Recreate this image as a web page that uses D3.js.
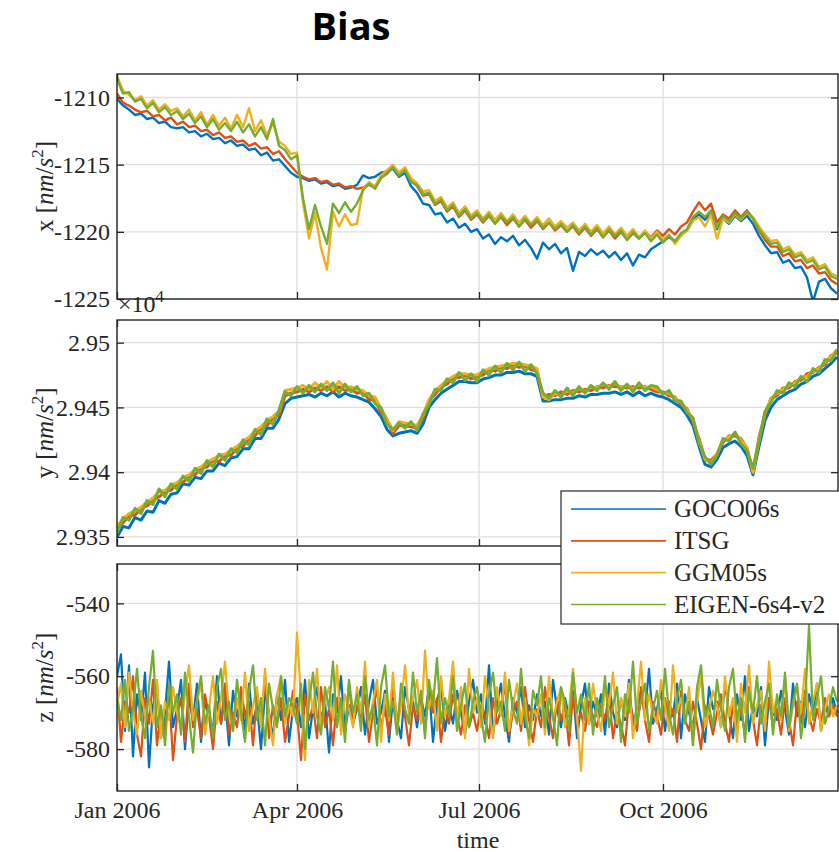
<!DOCTYPE html>
<html>
<head>
<meta charset="utf-8">
<script src="https://cdn.jsdelivr.net/npm/d3@7"></script>
<style>
body { margin: 0; background: #fff; }
text { font-family: "Liberation Serif", "Times New Roman", serif; fill: #262626; }
</style>
</head>
<body>
<svg id="chart" width="839" height="852"></svg>
<script>
// ---------- data ----------
var startDay = Date.UTC(2006, 0, 1)
var dayMs = 864e5
var models = ["GOCO06s", "ITSG", "GGM05s", "EIGEN-6s4-v2"]
var colors = ["#0072BD", "#D95319", "#EDB120", "#77AC30"]
var monthTicks = ["2006-01-01", "2006-04-01", "2006-07-01", "2006-10-01"]
var monthLabels = ["Jan 2006", "Apr 2006", "Jul 2006", "Oct 2006"]
var xTicks = [-1225, -1220, -1215, -1210]
var yTicks = [29350, 29400, 29450, 29500]   // shown as x10^4
var zTicks = [-580, -560, -540]

// x and y components: one value every 3 days from 1 Jan 2006 (nm/s^2)
var xGOCO = [
-1210.1,-1210.6,-1210.9,-1211.3,-1211.2,-1211.6,-1211.5,-1211.9,-1211.8,-1212.2,
-1212.3,-1212.2,-1212.6,-1212.5,-1212.9,-1212.7,-1213.1,-1213.0,-1213.4,-1213.2,
-1213.6,-1213.5,-1213.9,-1213.8,-1214.3,-1214.1,-1214.7,-1214.6,-1215.1,-1215.6,
-1215.9,-1216.0,-1216.2,-1216.1,-1216.4,-1216.3,-1216.6,-1216.5,-1216.8,-1216.7,
-1216.5,-1215.8,-1216.0,-1215.9,-1215.6,-1215.5,-1215.3,-1215.9,-1215.6,-1216.6,
-1217.1,-1217.9,-1218.0,-1218.7,-1218.6,-1219.3,-1219.0,-1219.7,-1219.4,-1220.0,
-1219.8,-1220.5,-1220.2,-1220.9,-1220.4,-1220.7,-1220.3,-1221.0,-1220.6,-1221.2,
-1222.0,-1220.8,-1221.3,-1220.9,-1221.6,-1221.2,-1222.9,-1221.5,-1221.8,-1221.3,
-1221.7,-1221.4,-1221.9,-1221.5,-1222.1,-1221.6,-1222.5,-1221.7,-1221.9,-1221.3,
-1221.0,-1220.7,-1220.4,-1220.7,-1220.2,-1219.9,-1219.1,-1218.7,-1219.1,-1218.6,
-1219.8,-1219.0,-1219.4,-1218.8,-1219.2,-1218.8,-1219.4,-1220.3,-1221.0,-1221.6,
-1221.5,-1222.3,-1222.1,-1222.7,-1222.6,-1223.4,-1225.2,-1223.7,-1223.5,-1224.2,
-1224.6]
var xITSG = [
-1209.7,-1210.4,-1210.6,-1210.9,-1211.1,-1211.0,-1211.4,-1211.3,-1211.7,-1211.5,
-1212.0,-1211.8,-1212.2,-1212.1,-1212.5,-1212.4,-1212.8,-1212.6,-1213.0,-1212.9,
-1213.3,-1213.2,-1213.6,-1213.4,-1213.8,-1213.7,-1214.2,-1214.0,-1214.6,-1215.1,
-1215.6,-1215.9,-1216.1,-1216.0,-1216.3,-1216.2,-1216.5,-1216.4,-1216.7,-1216.6,
-1216.8,-1216.7,-1216.5,-1216.7,-1216.0,-1215.6,-1215.1,-1215.7,-1215.3,-1216.2,
-1216.6,-1217.3,-1217.2,-1218.0,-1217.7,-1218.5,-1218.1,-1218.9,-1218.4,-1219.1,
-1218.7,-1219.3,-1218.8,-1219.4,-1218.9,-1219.5,-1219.0,-1219.6,-1219.1,-1219.7,
-1219.2,-1219.8,-1219.3,-1219.9,-1219.5,-1220.0,-1219.6,-1220.2,-1219.7,-1220.3,
-1219.8,-1220.4,-1219.9,-1220.5,-1220.0,-1220.6,-1220.1,-1220.5,-1220.0,-1220.4,
-1219.9,-1220.3,-1219.8,-1220.2,-1219.6,-1219.3,-1218.5,-1217.8,-1218.4,-1217.9,
-1219.3,-1218.7,-1219.0,-1218.4,-1218.9,-1218.4,-1219.0,-1219.9,-1220.6,-1221.1,
-1221.1,-1221.8,-1221.6,-1222.2,-1222.1,-1222.7,-1222.5,-1223.1,-1223.0,-1223.6,
-1223.9]
var xGGM = [
-1208.4,-1209.5,-1209.8,-1210.2,-1209.9,-1210.6,-1210.2,-1210.9,-1210.5,-1211.0,
-1210.8,-1211.4,-1210.9,-1211.7,-1211.1,-1212.0,-1211.3,-1212.1,-1211.5,-1212.3,
-1211.3,-1212.2,-1210.8,-1212.5,-1211.7,-1212.8,-1211.9,-1213.3,-1213.6,-1214.2,
-1214.1,-1217.8,-1220.5,-1218.6,-1221.2,-1222.8,-1218.5,-1219.6,-1218.7,-1219.5,
-1219.4,-1216.8,-1216.3,-1216.6,-1215.8,-1215.4,-1215.0,-1215.6,-1215.2,-1216.0,
-1216.4,-1217.0,-1216.9,-1217.7,-1217.4,-1218.2,-1217.8,-1218.6,-1218.1,-1218.8,
-1218.4,-1219.0,-1218.5,-1219.1,-1218.6,-1219.2,-1218.7,-1219.3,-1218.8,-1219.4,
-1218.9,-1219.5,-1219.0,-1219.6,-1219.2,-1219.7,-1219.3,-1219.9,-1219.4,-1220.0,
-1219.5,-1220.1,-1219.6,-1220.2,-1219.7,-1220.3,-1219.8,-1220.4,-1219.9,-1220.5,
-1220.0,-1220.6,-1220.2,-1220.9,-1220.3,-1219.9,-1219.2,-1218.9,-1219.6,-1218.7,
-1220.5,-1219.0,-1219.3,-1218.7,-1219.1,-1218.6,-1218.9,-1219.6,-1220.2,-1220.7,
-1220.6,-1221.3,-1221.1,-1221.7,-1221.5,-1222.1,-1221.9,-1222.6,-1222.4,-1223.1,
-1223.3]
var xEIGEN = [
-1208.6,-1209.7,-1209.6,-1210.3,-1210.1,-1210.8,-1210.4,-1211.1,-1210.7,-1211.3,
-1211.0,-1211.6,-1211.2,-1211.9,-1211.4,-1212.2,-1211.6,-1212.4,-1211.9,-1212.5,
-1211.8,-1212.6,-1212.0,-1212.9,-1212.2,-1213.1,-1211.6,-1213.6,-1213.9,-1214.6,
-1214.3,-1217.5,-1219.8,-1218.0,-1219.6,-1220.9,-1217.9,-1218.6,-1217.8,-1218.5,
-1217.9,-1216.9,-1216.4,-1216.8,-1216.0,-1215.7,-1215.2,-1215.8,-1215.4,-1216.3,
-1216.5,-1217.2,-1217.1,-1217.9,-1217.6,-1218.4,-1218.0,-1218.8,-1218.3,-1219.0,
-1218.6,-1219.2,-1218.7,-1219.4,-1218.8,-1219.3,-1218.9,-1219.6,-1219.0,-1219.5,
-1219.1,-1219.7,-1219.3,-1219.8,-1219.4,-1220.0,-1219.5,-1220.1,-1219.6,-1220.2,
-1219.7,-1220.4,-1219.8,-1220.3,-1219.9,-1220.6,-1220.0,-1220.5,-1220.1,-1220.7,
-1220.2,-1220.8,-1220.3,-1220.7,-1220.1,-1219.8,-1218.9,-1218.5,-1218.9,-1218.4,
-1219.7,-1218.8,-1219.2,-1218.6,-1219.0,-1218.5,-1219.0,-1219.8,-1220.4,-1220.9,
-1220.8,-1221.5,-1221.3,-1221.9,-1221.7,-1222.3,-1222.1,-1222.8,-1222.6,-1223.3,
-1223.5]

var yGOCO = [
29350,29358,29357,29365,29363,29370,29369,29378,29376,29383,
29384,29391,29390,29396,29395,29401,29401,29407,29405,29411,
29412,29418,29418,29426,29426,29434,29434,29441,29453,29457,
29458,29459,29460,29458,29461,29459,29462,29458,29461,29459,
29458,29456,29454,29449,29443,29433,29428,29430,29431,29432,
29430,29437,29450,29456,29461,29464,29467,29470,29470,29469,
29469,29472,29473,29475,29475,29477,29477,29478,29476,29476,
29474,29455,29455,29456,29456,29457,29457,29459,29458,29460,
29460,29461,29461,29462,29460,29462,29459,29462,29459,29461,
29459,29458,29456,29453,29450,29444,29436,29420,29406,29404,
29410,29419,29422,29424,29420,29413,29398,29420,29440,29450,
29456,29459,29462,29464,29468,29470,29474,29476,29480,29484,
29489]
var yITSG = [
29356,29361,29366,29367,29372,29374,29378,29381,29385,29386,
29391,29392,29397,29398,29403,29404,29409,29408,29413,29413,
29419,29420,29426,29428,29434,29436,29442,29444,29459,29461,
29462,29464,29462,29465,29463,29466,29462,29466,29463,29464,
29461,29462,29456,29456,29446,29440,29430,29436,29436,29435,
29434,29441,29455,29460,29466,29468,29473,29473,29475,29472,
29474,29475,29479,29478,29481,29480,29483,29481,29482,29479,
29478,29458,29460,29459,29462,29460,29463,29462,29464,29463,
29466,29465,29467,29466,29466,29465,29466,29465,29466,29464,
29462,29462,29459,29458,29452,29449,29439,29426,29410,29409,
29414,29423,29428,29428,29426,29418,29400,29427,29444,29457,
29459,29465,29465,29470,29471,29476,29477,29481,29483,29490,
29492]
var yGGM = [
29358,29364,29368,29370,29373,29377,29380,29385,29386,29390,
29392,29396,29398,29402,29404,29408,29410,29413,29414,29417,
29420,29424,29427,29432,29435,29440,29443,29447,29463,29464,
29465,29467,29464,29469,29465,29470,29464,29470,29465,29466,
29464,29463,29459,29458,29449,29441,29432,29439,29438,29437,
29436,29444,29456,29463,29467,29471,29474,29476,29476,29475,
29475,29478,29480,29481,29482,29483,29484,29484,29483,29482,
29480,29458,29456,29461,29459,29463,29461,29465,29462,29466,
29465,29468,29466,29469,29465,29467,29464,29468,29465,29466,
29464,29461,29461,29457,29454,29448,29441,29424,29410,29407,
29414,29425,29427,29430,29425,29419,29400,29425,29446,29457,
29461,29464,29467,29469,29473,29474,29478,29480,29485,29489,
29495]
var yEIGEN = [
29353,29365,29363,29372,29368,29378,29375,29387,29381,29391,
29387,29397,29393,29403,29399,29409,29404,29414,29409,29418,
29415,29425,29421,29433,29429,29441,29437,29448,29462,29459,
29466,29461,29467,29462,29468,29463,29469,29461,29468,29462,
29466,29459,29461,29453,29450,29437,29433,29438,29434,29439,
29432,29445,29452,29464,29463,29472,29469,29477,29471,29476,
29470,29479,29475,29482,29477,29484,29479,29485,29478,29483,
29476,29461,29457,29463,29458,29465,29459,29466,29461,29467,
29463,29469,29464,29470,29463,29468,29462,29469,29463,29467,
29466,29460,29463,29455,29455,29446,29442,29422,29412,29406,
29413,29426,29424,29431,29422,29417,29403,29424,29447,29454,
29463,29461,29469,29466,29474,29470,29480,29477,29487,29486,
29494]

// z component: one value every 2 days from 1 Jan 2006 (nm/s^2)
var zGOCO = [
-560,-554,-575,-557,-582,-565,-572,-559,-585,-568,-563,-577,-570,-556,-574,
-569,-561,-580,-566,-572,-562,-578,-567,-571,-575,-560,-573,-566,-579,-564,
-571,-566,-575,-562,-573,-568,-580,-564,-570,-577,-565,-572,-561,-578,-569,
-566,-574,-561,-577,-569,-563,-572,-567,-581,-565,-570,-560,-575,-568,-573,
-569,-563,-576,-567,-561,-573,-570,-564,-578,-566,-572,-577,-563,-569,-567,
-574,-566,-571,-563,-578,-567,-562,-575,-568,-573,-564,-570,-576,-567,-561,
-570,-565,-573,-557,-576,-568,-562,-571,-578,-566,-570,-563,-574,-568,-572,
-565,-571,-567,-576,-561,-569,-574,-566,-571,-564,-577,-568,-562,-573,-567,
-571,-565,-576,-562,-570,-574,-566,-572,-561,-575,-568,-564,-570,-558,-573,
-569,-564,-575,-567,-571,-562,-577,-565,-570,-574,-566,-572,-578,-563,-569,
-567,-574,-562,-570,-577,-565,-572,-560,-575,-568,-571,-563,-579,-566,-570,
-572,-564,-569,-576,-562,-571,-567,-574,-565,-570,-562,-575,-568,-571,-566,
-570]
var zITSG = [
-563,-578,-567,-570,-560,-576,-582,-566,-573,-561,-579,-569,-575,-564,-583,
-571,-566,-578,-562,-574,-569,-577,-565,-571,-580,-567,-573,-562,-576,-570,
-574,-563,-571,-567,-579,-565,-572,-560,-577,-568,-573,-566,-578,-571,-564,
-570,-583,-565,-572,-568,-577,-563,-574,-569,-579,-566,-571,-575,-562,-573,
-568,-572,-565,-578,-570,-563,-574,-569,-576,-561,-573,-566,-571,-579,-568,
-572,-567,-575,-562,-570,-566,-578,-569,-573,-565,-571,-576,-568,-574,-570,
-575,-568,-571,-577,-566,-573,-569,-562,-576,-570,-567,-575,-563,-572,-578,
-569,-574,-563,-571,-577,-566,-572,-568,-579,-565,-573,-570,-575,-567,-571,
-574,-568,-572,-565,-577,-570,-573,-579,-566,-571,-575,-563,-572,-578,-567,
-571,-576,-566,-573,-569,-578,-564,-572,-575,-567,-573,-580,-568,-571,-576,
-570,-565,-573,-578,-567,-574,-569,-576,-563,-572,-579,-568,-573,-566,-574,
-569,-576,-566,-572,-579,-567,-573,-564,-571,-575,-569,-573,-566,-571,-568,
-571]
var zGGM = [
-568,-562,-574,-559,-570,-576,-564,-571,-566,-573,-561,-577,-567,-572,-563,
-570,-574,-565,-557,-572,-567,-562,-576,-569,-560,-573,-566,-556,-570,-575,
-566,-572,-559,-575,-568,-563,-574,-558,-571,-579,-565,-560,-573,-568,-571,
-548,-566,-583,-561,-570,-558,-574,-567,-563,-572,-557,-576,-565,-569,-574,
-563,-570,-556,-574,-567,-561,-578,-565,-572,-559,-575,-568,-557,-571,-566,
-561,-573,-553,-569,-564,-575,-560,-571,-566,-556,-572,-563,-577,-558,-570,
-566,-574,-560,-569,-577,-563,-571,-559,-575,-568,-562,-573,-566,-579,-569,
-571,-565,-576,-560,-572,-567,-563,-574,-569,-558,-571,-586,-566,-573,-562,
-570,-575,-563,-568,-559,-573,-566,-571,-562,-577,-568,-556,-572,-565,-570,
-573,-561,-568,-575,-557,-570,-566,-572,-563,-578,-567,-560,-574,-569,-564,
-568,-574,-560,-571,-566,-578,-562,-570,-557,-573,-568,-564,-575,-556,-570,
-566,-572,-561,-575,-568,-563,-570,-558,-573,-567,-562,-575,-569,-565,-571,
-568]
var zEIGEN = [
-566,-572,-561,-575,-569,-558,-571,-577,-563,-553,-574,-568,-579,-562,-570,
-565,-576,-559,-571,-581,-566,-560,-573,-568,-577,-563,-558,-572,-567,-575,
-561,-570,-578,-564,-557,-572,-566,-579,-562,-569,-574,-560,-571,-566,-568,
-573,-562,-580,-567,-559,-571,-576,-563,-569,-556,-574,-566,-578,-561,-570,
-565,-575,-560,-572,-568,-579,-563,-557,-571,-567,-576,-562,-569,-573,-559,
-570,-564,-577,-561,-568,-555,-573,-566,-571,-560,-575,-568,-562,-574,-567,
-563,-571,-578,-565,-559,-570,-567,-575,-561,-569,-573,-558,-571,-577,-564,
-568,-560,-574,-566,-571,-579,-563,-567,-575,-559,-570,-565,-572,-562,-576,
-566,-571,-560,-574,-568,-563,-578,-565,-570,-556,-573,-567,-562,-575,-569,
-564,-572,-558,-570,-576,-566,-561,-573,-567,-579,-563,-557,-571,-568,-574,
-561,-569,-575,-563,-558,-572,-566,-578,-564,-570,-560,-573,-567,-562,-576,
-565,-571,-559,-574,-567,-562,-577,-568,-546,-572,-566,-560,-573,-569,-563,
-567]

// ---------- chart ----------
var svg = d3.select('#chart')
var left = 117, right = 838
var parseDay = d3.utcParse('%Y-%m-%d')
var tickDates = monthTicks.map(parseDay)

var xScale = d3.scaleUtc()
    .domain([new Date(startDay), new Date(startDay + 360.5 * dayMs)])
    .range([left, right])

var panels = [
    {label: 'x', top: 74, bottom: 299, domain: [-1225, -1208.25], ticks: xTicks, width: 2.4,
     series: [xGOCO, xITSG, xGGM, xEIGEN], step: 3, fmt: function(d){ return String(d) }},
    {label: 'y', top: 320, bottom: 546, domain: [29343, 29517.5], ticks: yTicks, width: 3,
     series: [yGOCO, yITSG, yGGM, yEIGEN], step: 3, fmt: function(d){ return String(+(d / 1e4).toFixed(3)) }},
    {label: 'z', top: 564, bottom: 791, domain: [-591.5, -529.2], ticks: zTicks, width: 2.2,
     series: [zGOCO, zITSG, zGGM, zEIGEN], step: 2, fmt: function(d){ return String(d) }}
]

svg.append('text')
    .attr('x', 351).attr('y', 40)
    .attr('text-anchor', 'middle')
    .style('font-family', '"Open Sans", sans-serif')
    .style('font-weight', 700)
    .style('font-size', '38px')
    .style('fill', '#000')
    .text('Bias')

panels.forEach(function(p, pi){
    var y = d3.scaleLinear().domain(p.domain).range([p.bottom, p.top])
    var g = svg.append('g')

    svg.append('clipPath').attr('id', 'clip' + pi)
        .append('rect')
        .attr('x', left).attr('y', p.top)
        .attr('width', right - left).attr('height', p.bottom - p.top)

    // grid
    g.selectAll('.hg').data(p.ticks).enter().append('line')
        .attr('x1', left).attr('x2', right)
        .attr('y1', function(d){ return y(d) }).attr('y2', function(d){ return y(d) })
        .style('stroke', '#dfdfdf').style('stroke-width', 1.3)
    g.selectAll('.vg').data(tickDates).enter().append('line')
        .attr('x1', function(d){ return xScale(d) }).attr('x2', function(d){ return xScale(d) })
        .attr('y1', p.top).attr('y2', p.bottom)
        .style('stroke', '#dfdfdf').style('stroke-width', 1.3)

    // series (green drawn last, on top)
    var lines = g.append('g').attr('clip-path', 'url(#clip' + pi + ')')
    p.series.forEach(function(vals, si){
        var line = d3.line()
            .x(function(d, i){ return xScale(new Date(startDay + i * p.step * dayMs)) })
            .y(function(d){ return y(d) })
        lines.append('path')
            .attr('d', line(vals))
            .style('fill', 'none')
            .style('stroke', colors[si])
            .style('stroke-width', p.width)
            .style('stroke-linejoin', 'round')
    })

    // axes with inward ticks on all four sides
    var axL = g.append('g').attr('transform', 'translate(' + left + ',0)')
        .call(d3.axisLeft(y).tickValues(p.ticks).tickSize(-7).tickSizeOuter(0).tickPadding(7).tickFormat(p.fmt))
    axL.selectAll('text').style('font-family', '"Liberation Serif", serif').style('font-size', '24px').style('fill', '#262626')
    g.append('g').attr('transform', 'translate(' + right + ',0)')
        .call(d3.axisRight(y).tickValues(p.ticks).tickSize(-7).tickSizeOuter(0).tickFormat(''))
    g.append('g').attr('transform', 'translate(0,' + p.top + ')')
        .call(d3.axisTop(xScale).tickValues(tickDates).tickSize(-7).tickSizeOuter(0).tickFormat(''))
    var axB = g.append('g').attr('transform', 'translate(0,' + p.bottom + ')')
        .call(d3.axisBottom(xScale).tickValues(tickDates).tickSize(-7).tickSizeOuter(0).tickPadding(10)
            .tickFormat(pi == 2 ? function(d, i){ return monthLabels[i] } : ''))
    axB.selectAll('text').style('font-family', '"Liberation Serif", serif').style('font-size', '24px').style('fill', '#262626')
    g.selectAll('.domain').remove()
    g.selectAll('.tick line').style('stroke', '#262626').style('stroke-width', 1.3)

    g.append('rect')
        .attr('x', left).attr('y', p.top)
        .attr('width', right - left).attr('height', p.bottom - p.top)
        .style('fill', 'none').style('stroke', '#262626').style('stroke-width', 1.4)

    // y label  "x [nm/s^2]"
    var lab = svg.append('text')
        .attr('transform', 'translate(53,' + ((p.top + p.bottom) / 2) + ') rotate(-90)')
        .attr('text-anchor', 'middle')
        .style('font-size', '25px')
    lab.append('tspan').text(p.label + ' [')
    lab.append('tspan').style('font-style', 'italic').text('nm')
    lab.append('tspan').text('/')
    lab.append('tspan').style('font-style', 'italic').text('s')
    lab.append('tspan').attr('dy', -10).style('font-size', '17px').text('2')
    lab.append('tspan').attr('dy', 10).text(']')
})

// exponent of the y panel
var expo = svg.append('text').attr('x', 118).attr('y', 312).style('font-size', '24px')
expo.append('tspan').text('\u00d710')
expo.append('tspan').attr('dy', -10).style('font-size', '17px').text('4')

svg.append('text')
    .attr('x', 478).attr('y', 848)
    .attr('text-anchor', 'middle')
    .style('font-size', '24px')
    .text('time')

// legend
var leg = svg.append('g')
leg.append('rect')
    .attr('x', 561).attr('y', 491).attr('width', 300).attr('height', 133)
    .style('fill', '#fff').style('stroke', '#262626').style('stroke-width', 1.2)
var rowY = d3.scalePoint().domain(models).range([509, 604.5])
models.forEach(function(m, i){
    leg.append('line')
        .attr('x1', 571).attr('x2', 666)
        .attr('y1', rowY(m)).attr('y2', rowY(m))
        .style('stroke', colors[i]).style('stroke-width', 1.6)
    leg.append('text')
        .attr('x', 674).attr('y', rowY(m) + 8)
        .style('font-size', '25px')
        .text(m)
})
</script>
</body>
</html>
